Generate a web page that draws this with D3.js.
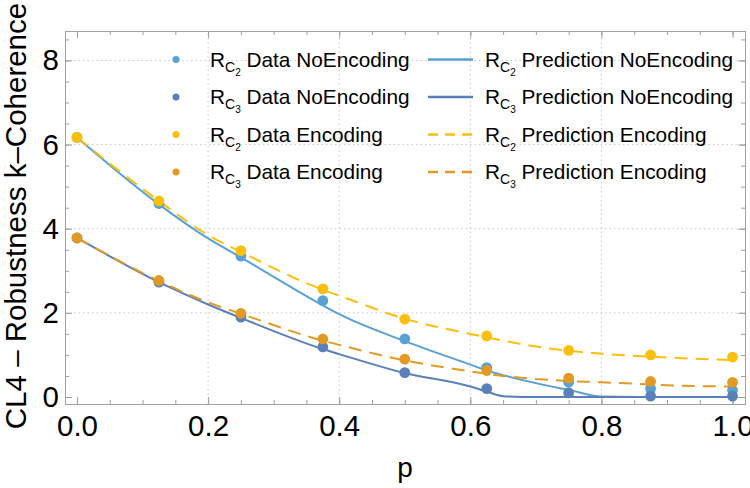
<!DOCTYPE html>
<html>
<head>
<meta charset="utf-8">
<script src="https://cdn.jsdelivr.net/npm/d3@7"></script>
<style>
  body { margin: 0; background: #fff; }
  text { font-family: "Liberation Sans", Arial, sans-serif; }
</style>
</head>
<body>
<svg width="750" height="488"></svg>
<script>
// Data
const pValues = [0, 0.125, 0.25, 0.375, 0.5, 0.625, 0.75, 0.875, 1.0];
const c2DataNoEnc = [6.17, 4.60, 3.35, 2.29, 1.38, 0.70, 0.35, 0.20, 0.16];
const c3DataNoEnc = [3.78, 2.73, 1.90, 1.19, 0.58, 0.20, 0.10, 0.02, 0.02];
const c2DataEnc   = [6.17, 4.66, 3.48, 2.57, 1.85, 1.45, 1.11, 1.00, 0.95];
const c3DataEnc   = [3.78, 2.77, 1.99, 1.38, 0.90, 0.63, 0.45, 0.37, 0.35];

// prediction curves
const predP = [0, 0.125, 0.2, 0.25, 0.375, 0.4, 0.5, 0.6, 0.625, 0.65, 0.7, 0.75, 0.8, 0.875, 0.9, 1.0];
const c2PredNoEnc = [6.17, 4.58, 3.77, 3.32, 2.18, 1.97, 1.33, 0.77, 0.63, 0.52, 0.33, 0.17, 0.01, 0, 0, 0];
const c3PredNoEnc = [3.78, 2.73, 2.20, 1.88, 1.14, 1.02, 0.57, 0.25, 0.13, 0.02, 0, 0, 0, 0, 0, 0];
const c2PredEnc   = [6.17, 4.66, 3.85, 3.45, 2.55, 2.41, 1.86, 1.50, 1.42, 1.34, 1.20, 1.10, 1.03, 0.96, 0.94, 0.88];
const c3PredEnc   = [3.78, 2.76, 2.25, 1.98, 1.34, 1.24, 0.87, 0.61, 0.55, 0.50, 0.43, 0.38, 0.35, 0.30, 0.28, 0.25];

const xTicks = [0, 0.2, 0.4, 0.6, 0.8, 1.0];
const yTicks = [0, 2, 4, 6, 8];

const colLightBlue = "#5aa1d3";
const colDarkBlue = "#5b7fb8";
const colYellow = "#fcc00c";
const colOrange = "#e39a24";

const svg = d3.select("svg");
const margin = { top: 31, right: 5, bottom: 84, left: 65 };
const width = 750, height = 488;

const x = d3.scaleLinear().domain([-0.0183, 1.019]).range([margin.left, width - margin.right]);
const y = d3.scaleLinear().domain([-0.166, 8.7]).range([height - margin.bottom, margin.top]);

const gridColor = "#c8c8c8";
const frameColor = "#a0a0a0";
const tickFont = 29.5;

// gridlines
svg.append("g").selectAll("line").data([0.2, 0.4, 0.6, 0.8]).join("line")
  .attr("x1", d => x(d)).attr("x2", d => x(d))
  .attr("y1", y.range()[0]).attr("y2", y.range()[1])
  .attr("stroke", gridColor).attr("stroke-dasharray", "1.5,3");
svg.append("g").selectAll("line").data([2, 4, 6, 8]).join("line")
  .attr("y1", d => y(d)).attr("y2", d => y(d))
  .attr("x1", x.range()[0]).attr("x2", x.range()[1])
  .attr("stroke", gridColor).attr("stroke-dasharray", "1.5,3");

// frame with inward ticks on all four sides
const xMinor = d3.range(0, 1.0001, 0.05);
const yMinor = d3.range(0, 8.6, 0.5);
function styleAxis(g) {
  g.selectAll("path.domain").attr("stroke", frameColor);
  g.selectAll(".tick line").attr("stroke", frameColor);
  g.selectAll("text").attr("font-size", tickFont).attr("fill", "#000");
}
const axBottom = svg.append("g").attr("transform", `translate(0,${y.range()[0]})`)
  .call(d3.axisBottom(x).tickValues(xMinor).tickSize(-4).tickFormat(""));
axBottom.append("g").call(d3.axisBottom(x).tickValues(xTicks).tickSize(-7).tickPadding(11).tickFormat(d3.format(".1f")))
  .select("path.domain").remove();
styleAxis(axBottom);
const axTop = svg.append("g").attr("transform", `translate(0,${y.range()[1]})`)
  .call(d3.axisTop(x).tickValues(xMinor).tickSize(-4).tickFormat(""));
axTop.append("g").call(d3.axisTop(x).tickValues(xTicks).tickSize(-7).tickFormat(""));
styleAxis(axTop);
const axLeft = svg.append("g").attr("transform", `translate(${x.range()[0]},0)`)
  .call(d3.axisLeft(y).tickValues(yMinor).tickSize(-4).tickFormat(""));
axLeft.append("g").call(d3.axisLeft(y).tickValues(yTicks).tickSize(-7).tickPadding(6).tickFormat(d3.format("d")))
  .select("path.domain").remove();
styleAxis(axLeft);
const axRight = svg.append("g").attr("transform", `translate(${x.range()[1]},0)`)
  .call(d3.axisRight(y).tickValues(yMinor).tickSize(-4).tickFormat(""));
axRight.append("g").call(d3.axisRight(y).tickValues(yTicks).tickSize(-7).tickFormat(""));
styleAxis(axRight);

// axis labels
svg.append("text").attr("x", (x.range()[0] + x.range()[1]) / 2).attr("y", 477)
  .attr("text-anchor", "middle").attr("font-size", 28).text("p");
svg.append("text")
  .attr("transform", "translate(26,216) rotate(-90)")
  .attr("text-anchor", "middle").attr("font-size", 29.5)
  .text("CL4 – Robustness k–Coherence");

// prediction curves
const series = [
  { vals: c2PredNoEnc, color: colLightBlue, dash: null },
  { vals: c3PredNoEnc, color: colDarkBlue, dash: null },
  { vals: c2PredEnc, color: colYellow, dash: "13,8" },
  { vals: c3PredEnc, color: colOrange, dash: "13,8" }
];
const line = d3.line().x(d => x(d[0])).y(d => y(d[1])).curve(d3.curveMonotoneX);
series.forEach(s => {
  svg.append("path")
    .datum(predP.map((p, i) => [p, s.vals[i]]))
    .attr("fill", "none").attr("stroke", s.color).attr("stroke-width", 2)
    .attr("stroke-dasharray", s.dash)
    .attr("d", line);
});

// data points
const points = [
  { vals: c2DataNoEnc, color: colLightBlue },
  { vals: c3DataNoEnc, color: colDarkBlue },
  { vals: c2DataEnc, color: colYellow },
  { vals: c3DataEnc, color: colOrange }
];
points.forEach(s => {
  svg.append("g").selectAll("circle").data(pValues).join("circle")
    .attr("cx", d => x(d)).attr("cy", (d, i) => y(s.vals[i]))
    .attr("r", 5.4).attr("fill", s.color);
});

// legend
const legendRows = [59.5, 97, 134.5, 172];
const legendData = [
  { sub: "2", label: " Data NoEncoding", color: colLightBlue },
  { sub: "3", label: " Data NoEncoding", color: colDarkBlue },
  { sub: "2", label: " Data Encoding", color: colYellow },
  { sub: "3", label: " Data Encoding", color: colOrange }
];
const legendLines = [
  { sub: "2", label: " Prediction NoEncoding", color: colLightBlue, dash: null },
  { sub: "3", label: " Prediction NoEncoding", color: colDarkBlue, dash: null },
  { sub: "2", label: " Prediction Encoding", color: colYellow, dash: "10,7" },
  { sub: "3", label: " Prediction Encoding", color: colOrange, dash: "10,7" }
];
function legendText(g, tx, ty, d) {
  const t = g.append("text").attr("x", tx).attr("y", ty + 7).attr("font-size", 20.8);
  t.append("tspan").text("R");
  t.append("tspan").attr("font-size", 14).attr("dy", 5).text("C");
  t.append("tspan").attr("font-size", 10).attr("dy", 4).text(d.sub);
  t.append("tspan").attr("dy", -9).text(d.label);
}
const lg = svg.append("g");
legendData.forEach((d, i) => {
  lg.append("circle").attr("cx", 176).attr("cy", legendRows[i]).attr("r", 3.5).attr("fill", d.color);
  legendText(lg, 210, legendRows[i], d);
});
legendLines.forEach((d, i) => {
  lg.append("line").attr("x1", 428).attr("x2", 473)
    .attr("y1", legendRows[i]).attr("y2", legendRows[i])
    .attr("stroke", d.color).attr("stroke-width", 2.5).attr("stroke-dasharray", d.dash);
  legendText(lg, 485, legendRows[i], d);
});
</script>
</body>
</html>
